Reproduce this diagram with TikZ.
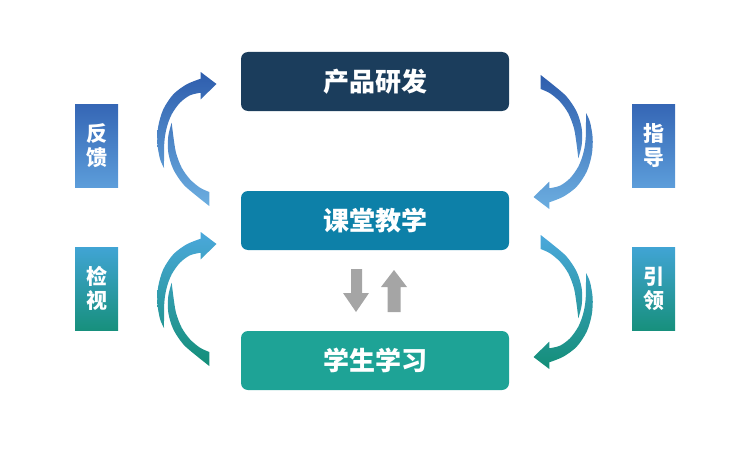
\documentclass[tikz,border=0pt]{standalone}
\usepackage{fontspec}
\setmainfont{Noto Sans CJK SC}
\definecolor{cA}{HTML}{1B3D5C}
\definecolor{cB}{HTML}{0D80A8}
\definecolor{cC}{HTML}{1EA396}
\definecolor{arTopA}{HTML}{2E5DAD}
\definecolor{arTopB}{HTML}{6CAEE0}
\definecolor{arBotA}{HTML}{4BA8DC}
\definecolor{arBotB}{HTML}{138E77}
\definecolor{lbTopA}{HTML}{3566B5}
\definecolor{lbTopB}{HTML}{5C9DDA}
\definecolor{lbBotA}{HTML}{41A4D4}
\definecolor{lbBotB}{HTML}{17907D}
\definecolor{grayar}{HTML}{A5A5A5}
% curved split arrow: #1 sx, #2 ox, #3 sy, #4 oy, #5 top colour, #6 bottom colour
\newcommand\bendarrow[6]{%
\def\sx{#1}\def\ox{#2}\def\sy{#3}\def\oy{#4}%
\shade[top color=#5,bottom color=#6]
 plot[smooth] coordinates {({\ox+\sx*164},{\oy+\sy*168}) ({\ox+\sx*160},{\oy+\sy*159}) ({\ox+\sx*157.3},{\oy+\sy*142.7}) ({\ox+\sx*158.3},{\oy+\sy*126}) ({\ox+\sx*163.3},{\oy+\sy*109.3}) ({\ox+\sx*173.3},{\oy+\sy*94.3}) ({\ox+\sx*186.7},{\oy+\sy*84.3}) ({\ox+\sx*200.7},{\oy+\sy*78.7})}
 -- ({\ox+\sx*200.7},{\oy+\sy*72}) -- ({\ox+\sx*216.5},{\oy+\sy*84}) -- ({\ox+\sx*200.7},{\oy+\sy*99.3}) --
 plot[smooth] coordinates {({\ox+\sx*200.7},{\oy+\sy*92.7}) ({\ox+\sx*190},{\oy+\sy*95.3}) ({\ox+\sx*180},{\oy+\sy*102.7}) ({\ox+\sx*171.7},{\oy+\sy*114.3}) ({\ox+\sx*166.7},{\oy+\sy*127.7}) ({\ox+\sx*164.3},{\oy+\sy*142.7}) ({\ox+\sx*164},{\oy+\sy*168})} -- cycle
 plot[smooth] coordinates {({\ox+\sx*171.7},{\oy+\sy*122.7}) ({\ox+\sx*168.3},{\oy+\sy*136}) ({\ox+\sx*168.3},{\oy+\sy*152.7}) ({\ox+\sx*173.3},{\oy+\sy*169.3}) ({\ox+\sx*183.3},{\oy+\sy*184.3}) ({\ox+\sx*196.7},{\oy+\sy*196}) ({\ox+\sx*209.3},{\oy+\sy*206})}
 -- ({\ox+\sx*209.3},{\oy+\sy*192}) --
 plot[smooth] coordinates {({\ox+\sx*209.3},{\oy+\sy*192}) ({\ox+\sx*200},{\oy+\sy*187.7}) ({\ox+\sx*190},{\oy+\sy*179.3}) ({\ox+\sx*181.7},{\oy+\sy*167.7}) ({\ox+\sx*176},{\oy+\sy*152.7}) ({\ox+\sx*173.3},{\oy+\sy*136}) ({\ox+\sx*171.7},{\oy+\sy*122.7})} -- cycle;
}
\begin{document}
\begin{tikzpicture}[x=1pt,y=-1pt,
  box/.style={rounded corners=7pt, minimum width=268pt, minimum height=59pt, text=white,
    font=\fontsize{26}{30}\selectfont\bfseries, inner sep=0pt},
  lab/.style={minimum width=43pt, minimum height=83pt, text=white,
    font=\fontsize{21}{24}\selectfont\bfseries, align=center, inner sep=0pt},
  grayshape/.style={fill=grayar, draw=none}]
\path[use as bounding box] (0,0) rectangle (750,452);
\node[box, fill=cA] (n1) at (375,81.5) {产品研发};
\node[box, fill=cB] (n2) at (375,220.5) {课堂教学};
\node[box, fill=cC] (n3) at (375,360.5) {学生学习};
\node[lab, top color=lbTopA, bottom color=lbTopB] (l1) at (96.5,145.5) {反\\馈};
\node[lab, top color=lbBotA, bottom color=lbBotB] (l2) at (96.5,288.5) {检\\视};
\node[lab, top color=lbTopA, bottom color=lbTopB] (l3) at (653.5,145.5) {指\\导};
\node[lab, top color=lbBotA, bottom color=lbBotB] (l4) at (653.5,288.5) {引\\领};
\bendarrow{1}{0}{1}{0}{arTopA}{arTopB}
\bendarrow{-1}{750}{-1}{281}{arTopA}{arTopB}
\bendarrow{1}{0}{1}{160}{arBotA}{arBotB}
\bendarrow{-1}{750}{-1}{441}{arBotA}{arBotB}
\fill[grayshape] (351,269) -- (362,269) -- (362,293) -- (369,293) -- (356,312) -- (343,293) -- (351,293) -- cycle;
\fill[grayshape] (394,270) -- (407,287) -- (400.5,287) -- (400.5,312) -- (387.5,312) -- (387.5,287) -- (381,287) -- cycle;
\end{tikzpicture}
\end{document}
